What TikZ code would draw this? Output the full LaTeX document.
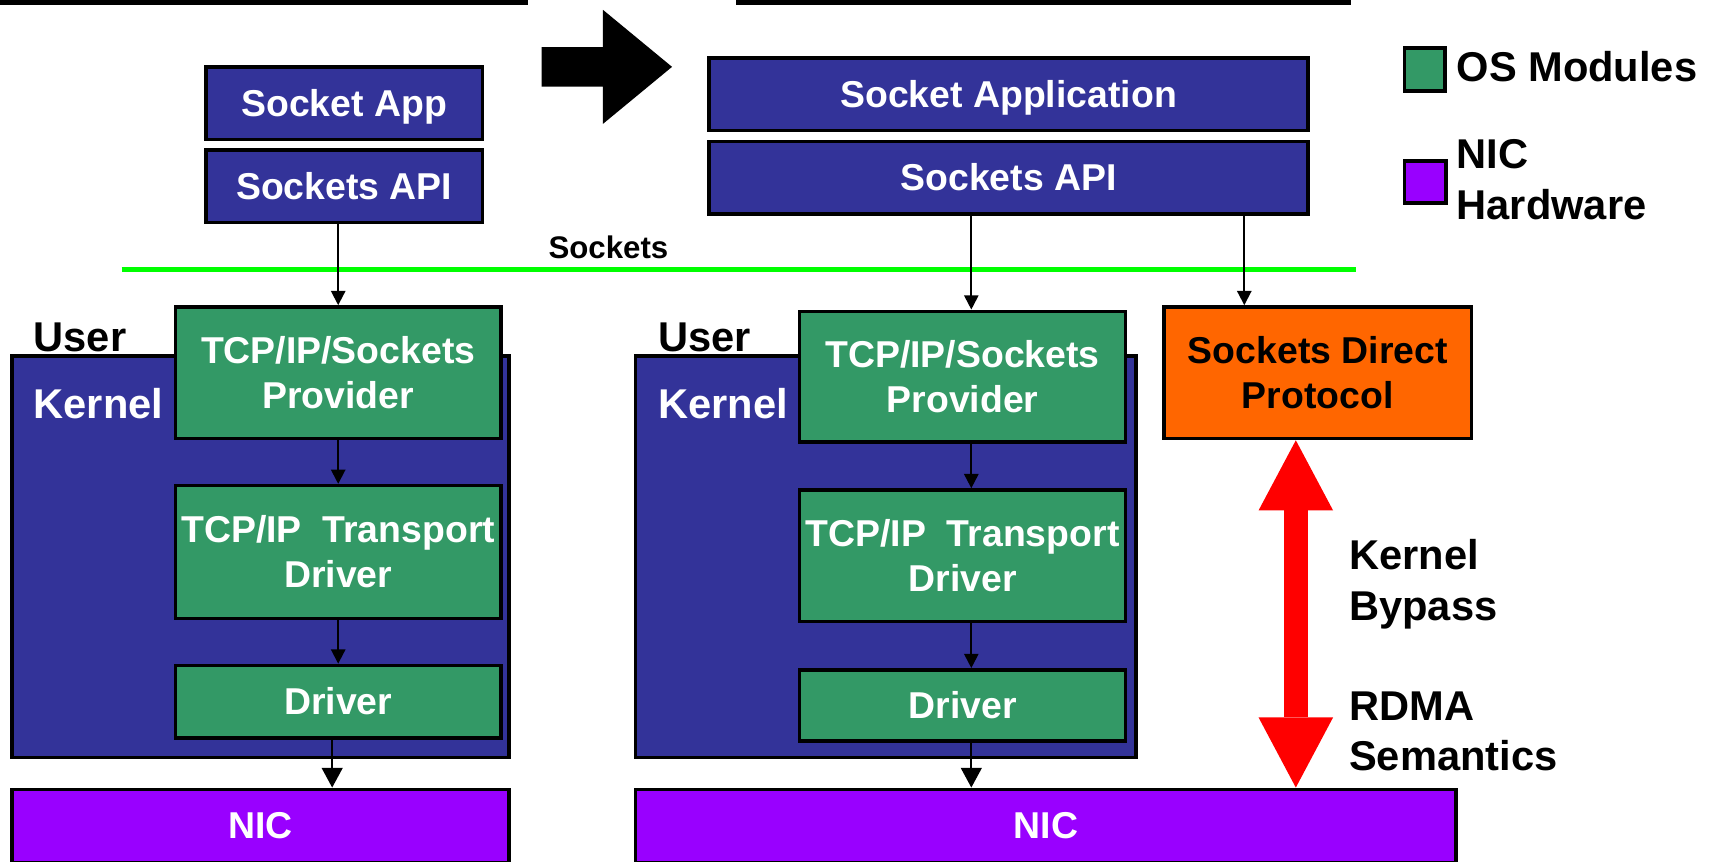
\documentclass[tikz,border=0pt]{standalone}
\usepackage{fontspec}
\setmainfont{Liberation Sans}
\usetikzlibrary{arrows.meta}

\definecolor{navy}{RGB}{51,51,153}
\definecolor{osgreen}{RGB}{51,153,102}
\definecolor{nicpurple}{RGB}{153,0,255}
\definecolor{sdporange}{RGB}{255,102,0}
\definecolor{sockgreen}{RGB}{0,255,0}

\begin{document}
\begin{tikzpicture}[x=0.01cm, y=-0.01cm]
	\tikzstyle{every node} = [inner sep=0pt, align=center, font=\bfseries\fontsize{9.7}{11.7}\selectfont]
	\tikzstyle{lbl} = [font=\bfseries\fontsize{10.8}{13.1}\selectfont, align=left]
	\tikzstyle{stackbox} = [draw=black, line width=0.9pt, text=white]
	\tikzstyle{appbox} = [stackbox, fill=navy, minimum height=0.66cm, text height=6.95pt, text depth=0pt]
	\tikzstyle{kernbox} = [stackbox, fill=navy, minimum height=3.66cm]
	\tikzstyle{osbox} = [stackbox, fill=osgreen, minimum width=2.97cm]
	\tikzstyle{nicbox} = [stackbox, fill=nicpurple, minimum height=0.67cm]
	\tikzstyle{flow} = [-{Triangle[length=0.13cm, width=0.13cm]}, line width=0.5pt]
	\tikzstyle{bigflow} = [-{Triangle[length=0.18cm, width=0.19cm]}, line width=0.5pt]
	\tikzstyle{bypass} = [red, line width=0.22cm, {Triangle[length=0.64cm, width=0.68cm, line width=0pt]}-{Triangle[length=0.64cm, width=0.68cm, line width=0pt]}]
	\useasboundingbox (0,0) rectangle (1568,786);

	% title rules and the big arrow
	\fill (0,0) rectangle (482,5);
	\fill (671,0) rectangle (1232,5);
	\fill (494,43) -- (550,43) -- (550,9) -- (613,61) -- (550,113) -- (550,79) -- (494,79) -- cycle;

	% sockets boundary
	\draw [sockgreen, line width=1.2pt] (111,246) -- (1237,246);
	\node [font=\bfseries\fontsize{8.1}{9}\selectfont] (socklbl) at (555,226) {Sockets};

	% left stack
	\node [appbox, minimum width=2.52cm] (app1) at (314,94) {Socket App};
	\node [appbox, minimum width=2.52cm] (api1) at (314,170) {Sockets API};
	\node [kernbox, minimum width=4.53cm] (kern1) at (237.5,508) {};
	\node [lbl, anchor=west] (user1) at (30,308) {User};
	\node [lbl, anchor=west, text=white] (kname1) at (30,368) {Kernel};
	\node [osbox, minimum height=1.2cm] (prov1) at (308.5,340) {TCP/IP/Sockets\\Provider};
	\node [osbox, minimum height=1.21cm] (tdrv1) at (308.5,503.5) {TCP/IP\ \ Transport\\Driver};
	\node [osbox, minimum height=0.66cm] (drv1) at (308.5,640) {Driver};
	\node [nicbox, minimum width=4.53cm] (nic1) at (237.5,753.5) {NIC};
	\coordinate (d1) at (303,0);

	% right stack
	\node [appbox, minimum width=5.46cm] (app2) at (920,86) {Socket Application};
	\node [appbox, minimum width=5.46cm] (api2) at (920,162) {Sockets API};
	\node [kernbox, minimum width=4.56cm] (kern2) at (808,508) {};
	\node [lbl, anchor=west] (user2) at (600,308) {User};
	\node [lbl, anchor=west, text=white] (kname2) at (600,368) {Kernel};
	\node [osbox, minimum height=1.19cm] (prov2) at (878,343.5) {TCP/IP/Sockets\\Provider};
	\node [osbox, minimum height=1.2cm] (tdrv2) at (878,507) {TCP/IP\ \ Transport\\Driver};
	\node [osbox, minimum height=0.65cm] (drv2) at (878,643.5) {Driver};
	\node [nicbox, minimum width=7.48cm] (nic2) at (954,753.5) {NIC};
	\node [stackbox, fill=sdporange, text=black, minimum width=2.8cm, minimum height=1.2cm] (sdp) at (1202,340) {Sockets Direct\\Protocol};
	\coordinate (d2) at (886,0);
	\coordinate (s2) at (1135,0);
	\coordinate (b2) at (1182,0);

	\node [lbl, anchor=west] (bypass) at (1230,533) {Kernel\\Bypass};
	\node [lbl, anchor=west] (rdma) at (1230,667) {RDMA\\Semantics};

	% legend
	\node [draw, line width=0.9pt, fill=osgreen, minimum width=0.37cm, minimum height=0.39cm] (keyos) at (1299.5,63.5) {};
	\node [lbl, anchor=west] (keyostxt) at (1328,61) {OS Modules};
	\node [draw, line width=0.9pt, fill=nicpurple, minimum width=0.38cm, minimum height=0.38cm] (keynic) at (1300,166) {};
	\node [lbl, anchor=west] (keynictxt) at (1328,164) {NIC\\Hardware};

	\draw [flow] (api1.south -| prov1) -- (prov1.north);
	\draw [flow] (prov1.south) -- (tdrv1.north);
	\draw [flow] (tdrv1.south) -- (drv1.north);
	\draw [bigflow] (drv1.south -| d1) -- (nic1.north -| d1);
	\draw [flow] (api2.south -| d2) -- (prov2.north -| d2);
	\draw [flow] (prov2.south -| d2) -- (tdrv2.north -| d2);
	\draw [flow] (tdrv2.south -| d2) -- (drv2.north -| d2);
	\draw [bigflow] (drv2.south -| d2) -- (nic2.north -| d2);
	\draw [flow] (api2.south -| s2) -- (sdp.north -| s2);
	\draw [bypass] (sdp.south -| b2) -- (nic2.north -| b2);
\end{tikzpicture}
\end{document}
